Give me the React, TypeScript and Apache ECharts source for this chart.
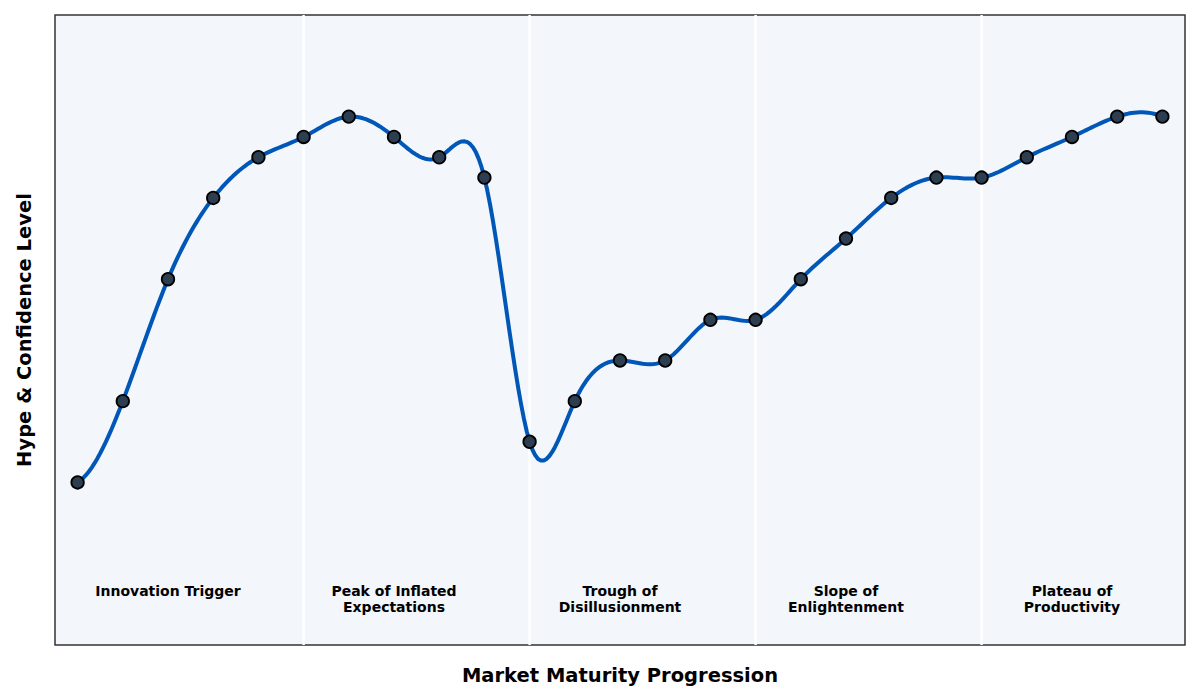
import React, { useEffect, useRef } from 'react';
import * as echarts from 'echarts';

// stage index along the x axis, one point per step
const stageIndex = [
  0, 1, 2, 3, 4, 5, 6, 7, 8, 9, 10, 11, 12, 13, 14, 15, 16, 17, 18, 19, 20, 21, 22, 23, 24,
];
const hypeValues = [
  10, 30, 60, 80, 90, 95, 100, 95, 90, 85, 20, 30, 40, 40, 50, 50, 60, 70, 80, 85, 85, 90, 95, 100, 100,
];

const phaseBoundaries = [5, 10, 15, 20];
const phaseCenters = [2, 7, 12, 17, 22];
const phaseLabels = [
  'Innovation Trigger',
  'Peak of Inflated\nExpectations',
  'Trough of\nDisillusionment',
  'Slope of\nEnlightenment',
  'Plateau of\nProductivity',
];
const phaseLabelY = -15;

const FONT = "'DejaVu Sans', sans-serif";

// second derivatives of a not-a-knot cubic spline (unit spacing)
function splineMoments(y: number[]): number[] {
  const n = y.length;
  const A: number[][] = [];
  const b: number[] = [];
  for (let r = 0; r < n; r++) {
    A.push(new Array(n).fill(0));
    b.push(0);
  }
  A[0][0] = 1; A[0][1] = -2; A[0][2] = 1;
  for (let i = 1; i < n - 1; i++) {
    A[i][i - 1] = 1; A[i][i] = 4; A[i][i + 1] = 1;
    b[i] = 6 * (y[i + 1] - 2 * y[i] + y[i - 1]);
  }
  A[n - 1][n - 3] = 1; A[n - 1][n - 2] = -2; A[n - 1][n - 1] = 1;
  // gaussian elimination
  for (let c = 0; c < n; c++) {
    let p = c;
    for (let r = c + 1; r < n; r++) if (Math.abs(A[r][c]) > Math.abs(A[p][c])) p = r;
    [A[c], A[p]] = [A[p], A[c]];
    [b[c], b[p]] = [b[p], b[c]];
    for (let r = c + 1; r < n; r++) {
      const f = A[r][c] / A[c][c];
      if (f === 0) continue;
      for (let k = c; k < n; k++) A[r][k] -= f * A[c][k];
      b[r] -= f * b[c];
    }
  }
  const m = new Array(n).fill(0);
  for (let r = n - 1; r >= 0; r--) {
    let s = b[r];
    for (let k = r + 1; k < n; k++) s -= A[r][k] * m[k];
    m[r] = s / A[r][r];
  }
  return m;
}

const App: React.FC = () => {
  const chartRef = useRef<HTMLDivElement>(null);

  useEffect(() => {
    const chart = echarts.init(chartRef.current!, undefined, { renderer: 'svg' });
    const moments = splineMoments(hypeValues);

    const options = {
      animation: false,
      grid: {
        left: 55,
        right: 15,
        top: 15,
        bottom: 55,
        show: true,
        backgroundColor: '#f3f6fa',
        borderColor: '#333333',
        borderWidth: 1.5,
      },
      xAxis: { type: 'value', min: -0.5, max: 24.5, show: false },
      yAxis: { type: 'value', min: -30, max: 125, show: false },
      graphic: [
        {
          type: 'text',
          x: 620,
          y: 675,
          style: {
            text: 'Market Maturity Progression',
            font: `bold 19.5px ${FONT}`,
            fill: '#000',
            align: 'center',
            verticalAlign: 'middle',
          },
        },
        {
          type: 'text',
          x: 24,
          y: 330,
          rotation: Math.PI / 2,
          style: {
            text: 'Hype & Confidence Level',
            font: `bold 19.5px ${FONT}`,
            fill: '#000',
            align: 'center',
            verticalAlign: 'middle',
          },
        },
      ],
      series: [
        {
          // phase separators
          type: 'custom',
          silent: true,
          z: 1,
          renderItem: (params: any, api: any) => {
            const b = api.value(0);
            const top = api.coord([b, 125]);
            const bottom = api.coord([b, -30]);
            return {
              type: 'line',
              shape: { x1: top[0], y1: top[1], x2: bottom[0], y2: bottom[1] },
              style: { stroke: '#ffffff', lineWidth: 2.5 },
            };
          },
          encode: { x: 0 },
          data: phaseBoundaries.map((b) => [b, 0]),
        },
        {
          // phase labels
          type: 'custom',
          silent: true,
          z: 2,
          renderItem: (params: any, api: any) => {
            const p = api.coord([api.value(0), api.value(1)]);
            return {
              type: 'text',
              x: p[0],
              y: p[1] - 1,
              style: {
                text: phaseLabels[params.dataIndex],
                font: `bold 14px ${FONT}`,
                fill: '#000',
                align: 'center',
                verticalAlign: 'top',
                lineHeight: 16,
              },
            };
          },
          encode: { x: 0, y: 1 },
          data: phaseCenters.map((c) => [c, phaseLabelY]),
        },
        {
          // smooth curve, one spline segment per item
          type: 'custom',
          silent: true,
          z: 3,
          renderItem: (params: any, api: any) => {
            const i = params.dataIndex;
            if (i >= hypeValues.length - 1) return null;
            const pts: number[][] = [];
            const steps = 16;
            for (let s = 0; s <= steps; s++) {
              const t = s / steps;
              const v =
                (1 - t) * hypeValues[i] +
                t * hypeValues[i + 1] +
                (((1 - t) ** 3 - (1 - t)) * moments[i]) / 6 +
                ((t ** 3 - t) * moments[i + 1]) / 6;
              pts.push(api.coord([stageIndex[i] + t, v]));
            }
            return {
              type: 'polyline',
              shape: { points: pts },
              style: { stroke: '#0057b7', lineWidth: 4, fill: 'none', lineCap: 'round', lineJoin: 'round' },
            };
          },
          encode: { x: 0, y: 1 },
          data: stageIndex.map((x, i) => [x, hypeValues[i]]),
        },
        {
          type: 'scatter',
          z: 4,
          symbol: 'circle',
          symbolSize: 12.5,
          itemStyle: { color: '#2c3e50', borderColor: '#000000', borderWidth: 1.8, opacity: 1 },
          data: stageIndex.map((x, i) => [x, hypeValues[i]]),
        },
      ],
    };

    chart.setOption(options);

    return () => {
      chart.dispose();
    };
  }, []);

  return (
    <div
      ref={chartRef}
      style={{ position: 'fixed', left: 0, top: 0, width: '1200px', height: '700px', background: '#ffffff' }}
    />
  );
};

export default App;
